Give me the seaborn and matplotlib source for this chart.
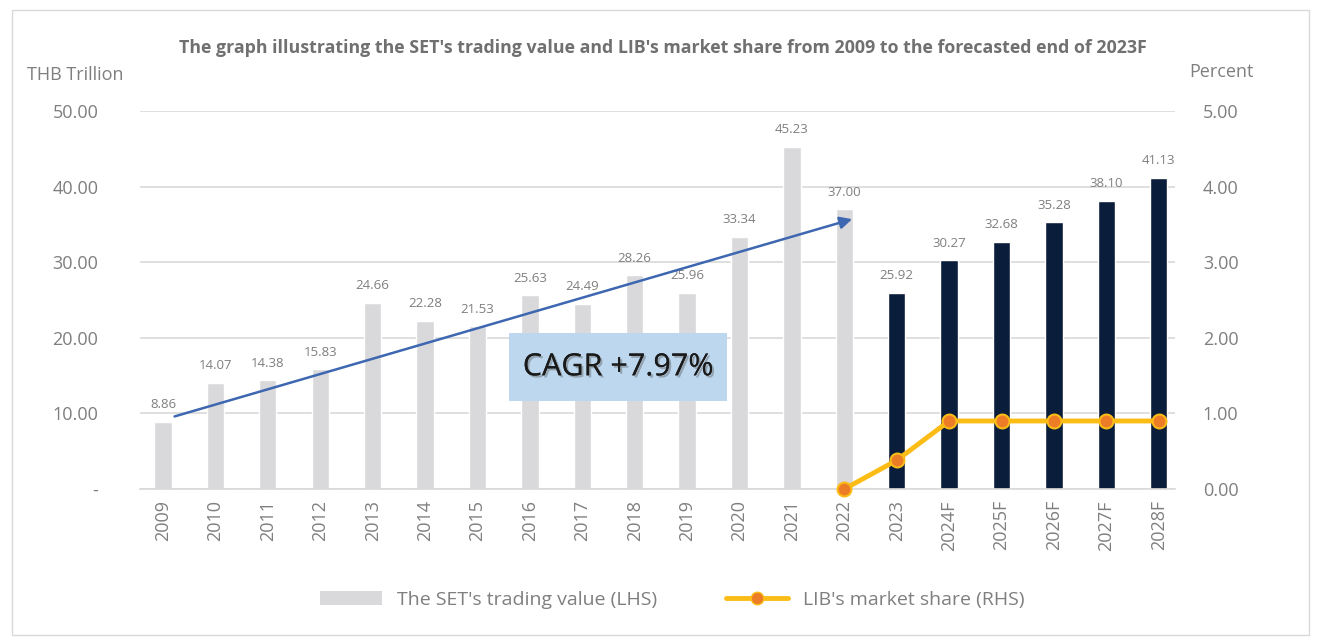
import matplotlib
matplotlib.use("Agg")
import matplotlib.pyplot as plt
import matplotlib.patheffects as pe
import seaborn as sns
import pandas as pd
from matplotlib.patches import Patch, Rectangle, FancyArrowPatch
from matplotlib.lines import Line2D

years = ["2009", "2010", "2011", "2012", "2013", "2014", "2015", "2016", "2017", "2018",
         "2019", "2020", "2021", "2022", "2023", "2024F", "2025F", "2026F", "2027F", "2028F"]
trading_value = [8.86, 14.07, 14.38, 15.83, 24.66, 22.28, 21.53, 25.63, 24.49, 28.26,
                 25.96, 33.34, 45.23, 37.00, 25.92, 30.27, 32.68, 35.28, 38.10, 41.13]
share_years = ["2022", "2023", "2024F", "2025F", "2026F", "2027F", "2028F"]
market_share = [0.00, 0.38, 0.90, 0.90, 0.90, 0.90, 0.90]
n_actual = 14  # bars up to 2022 drawn light grey

GREY = "#D9D9DB"
NAVY = "#021C42"
TXT = "#7F7F7F"

sns.set_style("white")
plt.rcParams["font.family"] = ["Open Sans", "DejaVu Sans"]

df = pd.DataFrame({"year": years, "value": trading_value})
bar_colors = [GREY] * n_actual + [NAVY] * (len(years) - n_actual)

fig = plt.figure(figsize=(13.18, 6.38), dpi=100)
ax = fig.add_axes([0.1062, 0.2335, 0.7853, 0.5925])

sns.barplot(data=df, x="year", y="value", hue="year", palette=bar_colors,
            legend=False, width=0.33, ax=ax, zorder=2)

ax.set_ylim(0, 50)
ax.set_xlim(-0.44, 19.31)
ax.set_yticks([0, 10, 20, 30, 40, 50])
ax.set_yticklabels(["-", "10.00", "20.00", "30.00", "40.00", "50.00"])
ax.yaxis.grid(True, color="#D9D9D9", linewidth=1.2, zorder=0)
ax.set_axisbelow(True)
for s in ["top", "right", "left"]:
    ax.spines[s].set_visible(False)
ax.spines["bottom"].set_color("#D9D9D9")
ax.spines["bottom"].set_linewidth(1.2)
ax.tick_params(axis="y", length=0, pad=30, labelsize=13, labelcolor=TXT)
ax.tick_params(axis="x", length=0, pad=8, labelsize=13, labelcolor=TXT, labelrotation=90)
ax.set_xlabel("")
ax.set_ylabel("")

# value labels
for i, v in enumerate(trading_value):
    ax.text(i, v + 1.4, f"{v:.2f}", ha="center", va="bottom", fontsize=9.5, color=TXT, zorder=3)

# CAGR arrow and box
arrow = FancyArrowPatch((0.17, 9.5), (13.2, 35.8), arrowstyle="-|>", mutation_scale=18,
                        color="#3E67B1", linewidth=1.8, zorder=4)
ax.add_patch(arrow)
ax.add_patch(Rectangle((6.6, 11.6), 4.16, 9.0, facecolor="#BDD7EE", edgecolor="none", zorder=5))
ax.text(8.68, 16.1, "CAGR +7.97%", ha="center", va="center", fontsize=22, color="#1A1A1A", zorder=6,
        path_effects=[pe.withSimplePatchShadow(offset=(1.5, -1.5), shadow_rgbFace="#555555", alpha=0.4),
                      pe.Normal()])

# right axis: market share
ax2 = ax.twinx()
ax2.set_position(ax.get_position())
share_x = [years.index(y) for y in share_years]
sns.lineplot(x=share_x, y=market_share, ax=ax2, color="#FBBC16", linewidth=3.5,
             marker="o", markersize=10, markerfacecolor="#EC7C26",
             markeredgecolor="#FBBC16", markeredgewidth=1.5, zorder=6, clip_on=False)
ax2.set_ylim(0, 5)
ax2.set_yticks([0, 1, 2, 3, 4, 5])
ax2.set_yticklabels([f"{t:.2f}" for t in range(6)])
ax2.tick_params(axis="y", length=0, pad=20, labelsize=13, labelcolor=TXT)
for s in ["top", "right", "left", "bottom"]:
    ax2.spines[s].set_visible(False)
ax2.set_xlim(-0.44, 19.31)

fig.text(0.0205, 0.882, "THB Trillion", fontsize=13, color=TXT, ha="left", va="center")
fig.text(0.902, 0.887, "Percent", fontsize=13, color=TXT, ha="left", va="center")
fig.text(0.503, 0.925, "The graph illustrating the SET's trading value and LIB's market share from 2009 to the forecasted end of 2023F",
         fontsize=12.8, fontweight="bold", color="#707070", ha="center", va="center")

handles = [Patch(facecolor=GREY, edgecolor="none"),
           Line2D([0], [0], color="#FBBC16", linewidth=3.5, marker="o", markersize=9,
                  markerfacecolor="#EC7C26", markeredgecolor="#FBBC16")]
fig.legend(handles, ["The SET's trading value (LHS)", "LIB's market share (RHS)"],
           loc="center", bbox_to_anchor=(0.51, 0.06), ncol=2, frameon=False,
           fontsize=14, labelcolor=TXT, handlelength=3.2, columnspacing=3.5)

# outer frame
fig.add_artist(Rectangle((0.009, 0.005), 0.984, 0.98, transform=fig.transFigure,
                         fill=False, edgecolor="#D9D9D9", linewidth=1))

fig.savefig("out.png", dpi=100)
